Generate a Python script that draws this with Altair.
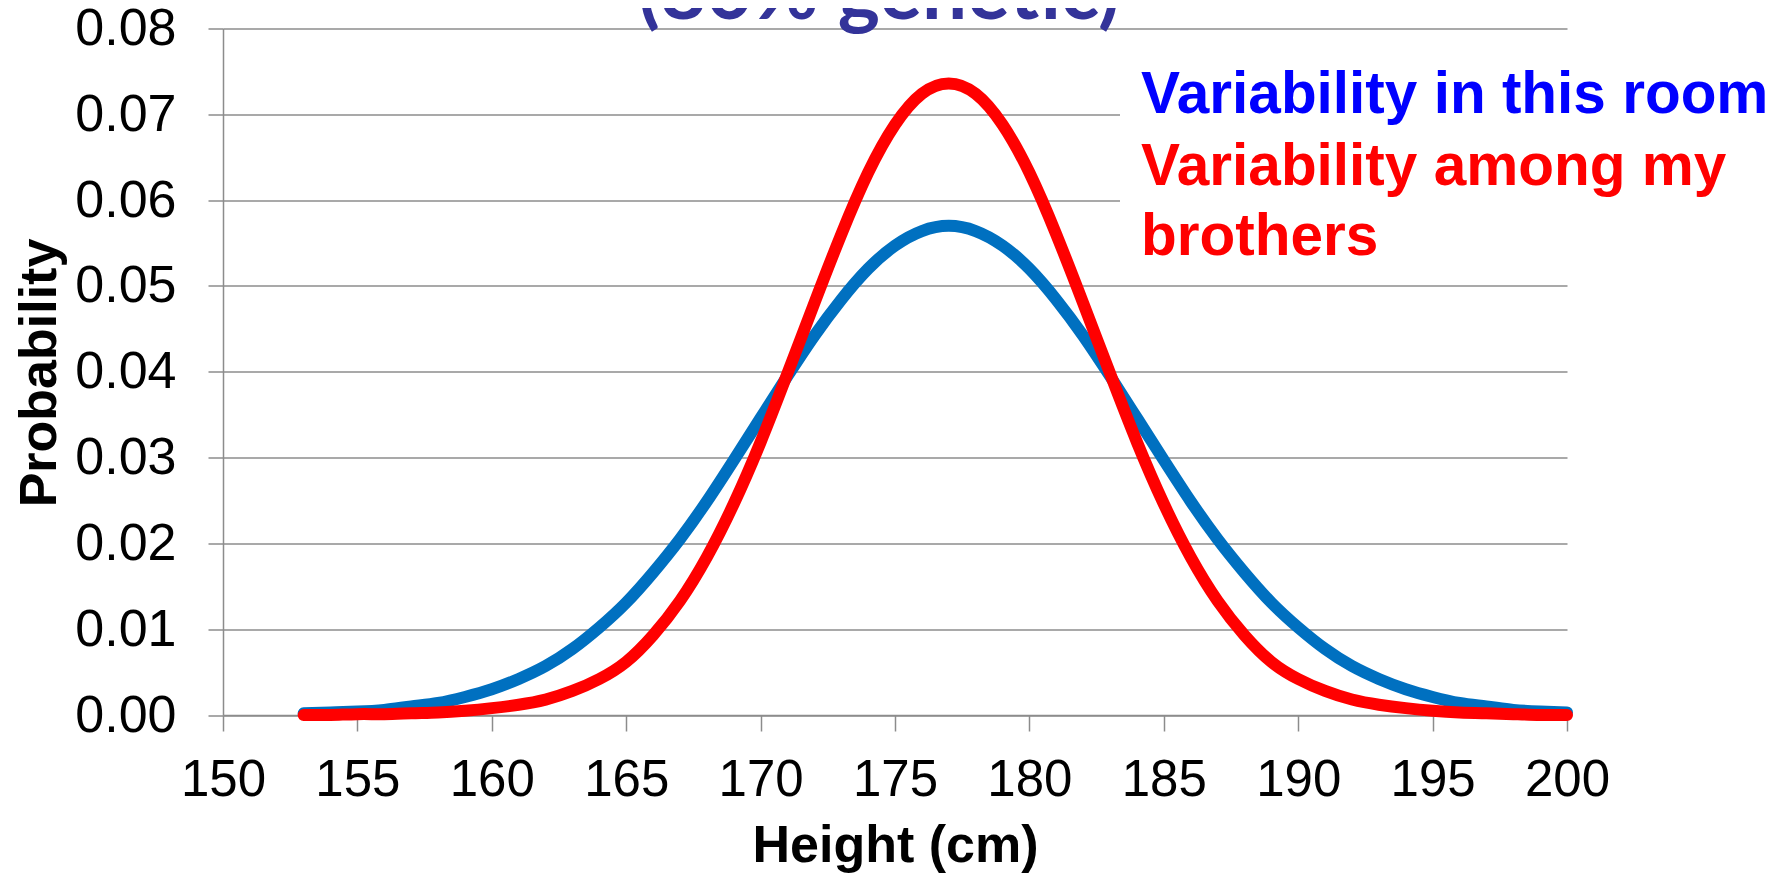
import altair as alt
import pandas as pd

# ---- data ----
heights = [153, 154, 155, 156, 157, 158, 159, 160, 161, 162, 163, 164, 165, 166,
           167, 168, 169, 170, 171, 172, 173, 174, 175, 176, 177, 178, 179, 180,
           181, 182, 183, 184, 185, 186, 187, 188, 189, 190, 191, 192, 193, 194,
           195, 196, 197, 198, 199, 200]

room = [0.0002, 0.0003, 0.0004, 0.0006, 0.0010, 0.0014, 0.0021, 0.0030, 0.0042,
        0.0057, 0.0077, 0.0102, 0.0131, 0.0166, 0.0205, 0.0249, 0.0297, 0.0346,
        0.0395, 0.0442, 0.0484, 0.0520, 0.0547, 0.0564, 0.0570, 0.0564, 0.0547,
        0.0520, 0.0484, 0.0442, 0.0395, 0.0346, 0.0297, 0.0249, 0.0205, 0.0166,
        0.0131, 0.0102, 0.0077, 0.0057, 0.0042, 0.0030, 0.0021, 0.0014, 0.0010,
        0.0006, 0.0004, 0.0003]

brothers = [0.0000, 0.0000, 0.0001, 0.0001, 0.0002, 0.0003, 0.0005, 0.0008,
            0.0012, 0.0018, 0.0028, 0.0042, 0.0062, 0.0093, 0.0133, 0.0184,
            0.0246, 0.0318, 0.0398, 0.0480, 0.0560, 0.0632, 0.0688, 0.0724,
            0.0736, 0.0724, 0.0688, 0.0632, 0.0560, 0.0480, 0.0398, 0.0318,
            0.0246, 0.0184, 0.0133, 0.0093, 0.0062, 0.0042, 0.0028, 0.0018,
            0.0012, 0.0008, 0.0005, 0.0003, 0.0002, 0.0001, 0.0000, 0.0000]

x_ticks = [150, 155, 160, 165, 170, 175, 180, 185, 190, 195, 200]
y_ticks = [0.00, 0.01, 0.02, 0.03, 0.04, 0.05, 0.06, 0.07, 0.08]

title_text = "(80% genetic)"
legend_lines = ["Variability in this room", "Variability among my", "brothers"]
x_title = "Height (cm)"
y_title = "Probability"

W, H = 1344, 686.5
GRAY = "#8c8c8c"
FONT = "Liberation Sans"

df_room = pd.DataFrame({"height": heights, "prob": room})
df_bro = pd.DataFrame({"height": heights, "prob": brothers})

x_enc = alt.X(
    "height:Q",
    scale=alt.Scale(domain=[150, 200], nice=False, zero=False),
    axis=alt.Axis(
        values=x_ticks, grid=False, domainColor=GRAY, domainWidth=1.5,
        tickColor=GRAY, tickWidth=1.5, tickSize=16,
        labelFont=FONT, labelFontSize=51, labelColor="black", labelPadding=24,
        labelFlush=False, labelOverlap=False,
        title=x_title, titleFont=FONT, titleFontSize=52, titleFontWeight="bold",
        titleColor="black", titleBaseline="alphabetic", titleY=146,
        titleX=W / 2, titleAlign="center",
    ),
)
y_enc = alt.Y(
    "prob:Q",
    scale=alt.Scale(domain=[0, 0.08], nice=False),
    axis=alt.Axis(
        values=y_ticks, format=".2f", grid=True, gridColor=GRAY, gridWidth=1.5,
        domainColor=GRAY, domainWidth=1.5, tickColor=GRAY, tickWidth=1.5,
        tickSize=15, labelFont=FONT, labelFontSize=52, labelColor="black",
        labelPadding=32, labelFlush=False, labelOverlap=False,
        title=y_title, titleFont=FONT, titleFontSize=52, titleFontWeight="bold",
        titleColor="black", titleAngle=270, titleBaseline="alphabetic",
        titleAlign="center", titleX=-168, titleY=344,
    ),
)

one = pd.DataFrame({"k": [0]})

# white box behind legend text (hides gridlines there)
box = alt.Chart(one).mark_rect(color="white").encode(
    x=alt.value(897), x2=alt.value(1560), y=alt.value(12), y2=alt.value(250)
)

blue_line = alt.Chart(df_room).mark_line(
    color="#0070C0", strokeWidth=12, interpolate="natural", strokeCap="round"
).encode(x=x_enc, y=y_enc)

red_line = alt.Chart(df_bro).mark_line(
    color="#FF0000", strokeWidth=12, interpolate="natural", strokeCap="round"
).encode(x="height:Q", y="prob:Q")

title_df = pd.DataFrame({"t": [title_text]})
title_mark = alt.Chart(title_df).mark_text(
    font="Lato", fontWeight="bold", fontSize=80, color="#333399",
    align="center", baseline="alphabetic"
).encode(text="t:N", x=alt.value(656), y=alt.value(-10))

legend_colors = ["#0000FF", "#FF0000", "#FF0000"]
legend_y = [84.5, 156.5, 226.5]
legend_layers = []
for line, col, yy in zip(legend_lines, legend_colors, legend_y):
    ldf = pd.DataFrame({"t": [line]})
    legend_layers.append(
        alt.Chart(ldf).mark_text(
            font=FONT, fontWeight="bold", fontSize=58.5, color=col,
            align="left", baseline="alphabetic"
        ).encode(text="t:N", x=alt.value(918), y=alt.value(yy))
    )

chart = alt.layer(
    blue_line, box, red_line, title_mark, *legend_layers
).resolve_scale(x="shared", y="shared").properties(
    width=W, height=H,
    autosize=alt.AutoSizeParams(type="none"),
    padding={"left": 215, "top": 20.5, "right": 206, "bottom": 162},
    background="white",
).configure_view(stroke=None)

chart.save("out.html", embed_options={"renderer": "svg", "actions": False})
